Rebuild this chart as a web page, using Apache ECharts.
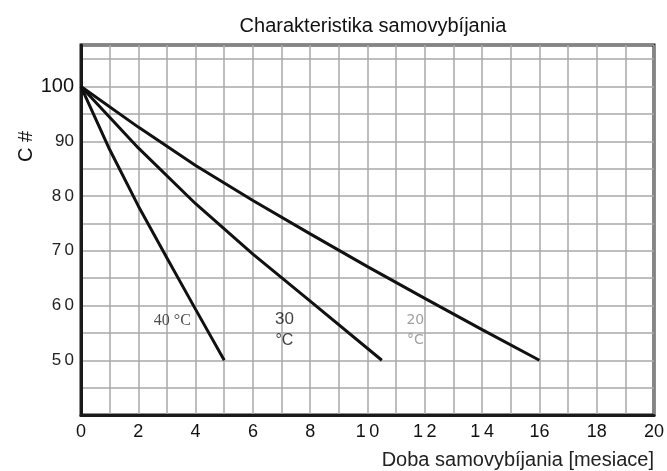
<!DOCTYPE html>
<html>
<head>
<meta charset="utf-8">
<script src="https://cdn.jsdelivr.net/npm/echarts@6/dist/echarts.min.js"></script>
<style>html,body{margin:0;padding:0;background:#fff}#c{width:667px;height:471px}</style>
</head>
<body>
<div id="c"></div>
<script>
// Data
const months40 = [0, 1, 2, 3, 4, 5];
const cap40 = [100, 88.5, 78.2, 68.7, 59.3, 50];
const months30 = [0, 2, 4, 6, 8, 10.5];
const cap30 = [100, 88.8, 78.6, 69.4, 60.8, 50];
const months20 = [0, 2, 4, 6, 8, 10, 12, 14, 16];
const cap20 = [100, 92.6, 85.6, 79.2, 73.1, 67.1, 61.3, 55.6, 50];

const xTickLabels = {0:'0',2:'2',4:'4',6:'6',8:'8',10:'1\u20090',12:'1\u20092',14:'1\u20094',16:'16',18:'18',20:'20'};
const yTickLabels = {50:'5\u20090',60:'6\u20090',70:'7\u20090',80:'8\u20090',90:'90',100:'{big|100}'};

const seriesLabels = [
  {x: 3.19, y: 57.2, text: '40 °C', font: 'Liberation Serif', size: 16, color: '#222'},
  {x: 7.1, y: 57.45, text: '30', font: 'Liberation Sans', size: 17, color: '#111'},
  {x: 7.1, y: 53.66, text: '°C', font: 'Liberation Sans', size: 16, color: '#111'},
  {x: 11.67, y: 57.3, text: '20', font: 'DejaVu Sans', size: 14, color: '#888'},
  {x: 11.67, y: 53.66, text: '°C', font: 'DejaVu Sans', size: 14, color: '#888'}
];

function zip(xs, ys){ return xs.map((v,i)=>[v, ys[i]]); }

const chart = echarts.init(document.getElementById('c'), null, {renderer:'canvas'});
const lineStyle = {color:'#111', width:3};
const option = {
  animation: false,
  backgroundColor: '#fff',
  title: {
    text: 'Charakteristika samovybíjania',
    left: 368, top: 11, textAlign: 'center',
    textStyle: {fontFamily:'Liberation Sans', fontSize:20, fontWeight:'normal', color:'#111'}
  },
  grid: {left:81, right:11, top:45, bottom:56, show:true, borderColor:'#1a1a1a', borderWidth:3, backgroundColor:'#fff'},
  xAxis: {
    type:'value', min:0, max:20, interval:1,
    name:'Doba samovybíjania [mesiace]', nameLocation:'end', nameGap:0,
    nameTextStyle:{fontFamily:'Liberation Sans', fontSize:20, color:'#222', align:'right', verticalAlign:'top', padding:[35,0,0,0]},
    axisLine:{show:true, lineStyle:{color:'#1a1a1a', width:3}},
    axisTick:{show:false},
    splitLine:{show:true, lineStyle:{color:'#a8a8a8', width:1.5}},
    axisLabel:{margin:8, fontFamily:'Liberation Sans', fontSize:18, color:'#111',
      formatter: v => (xTickLabels[v] !== undefined ? xTickLabels[v] : '')}
  },
  yAxis: {
    type:'value', min:40, max:107.6, interval:5,
    axisLine:{show:true, lineStyle:{color:'#1a1a1a', width:3}},
    axisTick:{show:false},
    splitLine:{show:true, lineStyle:{color:'#a8a8a8', width:1.5}},
    axisLabel:{margin:7, fontFamily:'Liberation Sans', fontSize:17, color:'#222', showMaxLabel:false,
      rich:{big:{fontFamily:'Liberation Sans', fontSize:20, color:'#111'}},
      formatter: v => (yTickLabels[v] !== undefined ? yTickLabels[v] : '')}
  },
  graphic: [{
    type:'text', left: 16, top: 131, rotation: Math.PI/2,
    style:{text:'C #', font:'20px "Liberation Sans"', fill:'#111'}
  }],
  series: [
    {type:'line', name:'40', data: zip(months40, cap40), showSymbol:false, smooth:false, lineStyle, z:5},
    {type:'line', name:'30', data: zip(months30, cap30), showSymbol:false, smooth:false, lineStyle, z:5},
    {type:'line', name:'20', data: zip(months20, cap20), showSymbol:false, smooth:false, lineStyle, z:5},
    {type:'scatter', symbolSize:0, silent:true, z:6,
      data: seriesLabels.map(l => ({value:[l.x, l.y], label:{show:true, position:'inside', formatter:l.text,
        fontFamily:l.font, fontSize:l.size, color:l.color}}))}
  ]
};
chart.setOption(option);
</script>
</body>
</html>
